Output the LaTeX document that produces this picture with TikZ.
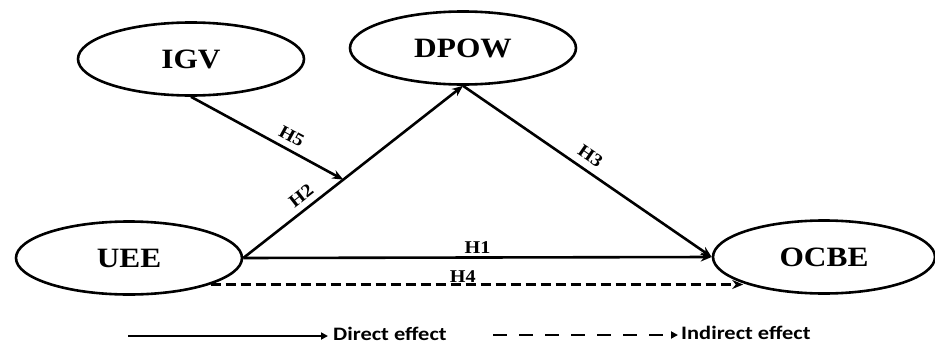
\documentclass[tikz,border=0pt]{standalone}
\usepackage{fontspec}
\setmainfont{Liberation Serif}[FakeStretch=1.12]
\newfontfamily\legendfont{Carlito}[FakeStretch=1.18]
\usetikzlibrary{shapes.geometric,arrows.meta,calc}
\begin{document}
\begin{tikzpicture}[x=1pt,y=-1pt,
  latent/.style={draw, line width=2.6pt, ellipse, minimum width=226pt, minimum height=73pt, inner sep=0pt,
    font=\bfseries\fontsize{28}{30}\selectfont},
  path/.style={line width=2.6pt, -{Stealth[length=11pt,width=9pt]}},
  dpath/.style={path, dash pattern=on 10pt off 5pt},
  hlab/.style={font=\bfseries\fontsize{18}{20}\selectfont, inner sep=4pt},
  leg/.style={line width=2.4pt, -{Triangle[length=7pt,width=7pt]}},
  legtext/.style={font=\legendfont\bfseries\fontsize{19}{21}\selectfont, anchor=base west, inner sep=0pt}
]
\useasboundingbox (0,0) rectangle (935,343);
\node[latent] (IGV) at (191,59) {IGV};
\node[latent] (DPOW) at (463,48) {DPOW};
\node[latent] (UEE) at (129,258) {UEE};
\node[latent, minimum width=222pt] (OCBE) at (824,257) {OCBE};

\draw[path] (UEE.east) -- node[hlab, pos=0.3, sloped, above, inner sep=6pt] {H2} (DPOW.south);
\coordinate (m) at ($(UEE.east)!0.455!(DPOW.south)$);
\draw[path] (IGV.south) -- node[hlab, pos=0.62, sloped, above, inner sep=6pt] {H5} (m);
\draw[path] (DPOW.south) -- node[hlab, pos=0.48, sloped, above, inner sep=7pt] {H3} (OCBE.west);
\draw[path] (UEE.east) -- node[hlab, pos=0.5, above, inner sep=3pt] {H1} (OCBE.west);
\draw[dpath] (UEE.-18) -- node[hlab, pos=0.5, above, inner sep=0.5pt, xshift=-14pt] {H4} (UEE.-18 -| OCBE.198);

\coordinate (l1a) at (128,336);
\coordinate (l1b) at (328,336);
\draw[leg] (l1a) -- (l1b);
\node[legtext] (dl) at (333,340) {Direct effect};
\coordinate (l2a) at (493,335);
\coordinate (l2b) at (678,335);
\draw[leg, dash pattern=on 14pt off 12pt] (l2a) -- (l2b);
\node[legtext] (il) at (681,339) {Indirect effect};
\end{tikzpicture}
\end{document}
